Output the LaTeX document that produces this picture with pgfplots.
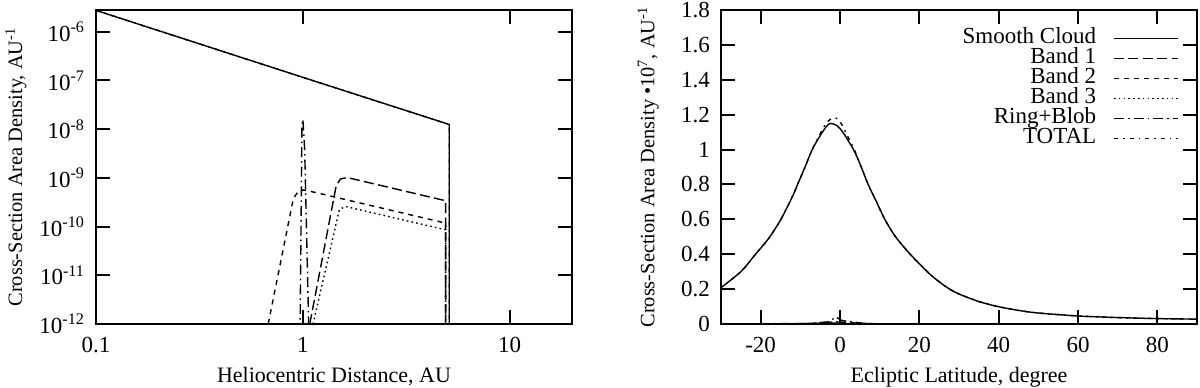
\documentclass[border=0pt]{standalone}
\usepackage{fontspec}
\setmainfont{Liberation Serif}
\usepackage{pgfplots}
\pgfplotsset{compat=1.18}

\newcommand\gpfont{\fontsize{11.5}{13}\selectfont}
\newcommand\xlfont{\fontsize{11}{13}\selectfont}
\newcommand\ylfont{\fontsize{10.2}{12}\selectfont}

\pgfplotsset{
  gp/.style={
    scale only axis,
    width=238pt, height=157pt,
    axis line style={line width=1.3pt},
    tick style={line width=1pt, black},
    major tick length=7pt,
    minor tick length=3.5pt,
    tick align=inside,
    tick label style={font=\gpfont},
    xlabel style={font=\xlfont},
    ylabel style={font=\ylfont},
    /pgf/number format/assume math mode=true,
    yticklabel style={xshift=-2pt},
    xticklabel style={yshift=-3pt},
    every axis x label/.append style={at={(axis description cs:0.5,0)}, anchor=center, yshift=-26.5pt},
  },
  sc/.style={black, line width=0.7pt},
  b1/.style={black, line width=0.7pt, dash pattern=on 5pt off 2.2pt},
  b2/.style={black, line width=0.7pt, dash pattern=on 2.5pt off 2.5pt},
  b3/.style={black, line width=0.7pt, dash pattern=on 0.8pt off 1.6pt},
  rb/.style={black, line width=0.7pt, dash pattern=on 5pt off 2pt on 0.8pt off 2pt},
  tot/.style={black, line width=0.7pt, dash pattern=on 2pt off 2.5pt on 0.8pt off 2.5pt},
}

\begin{document}
\begin{tikzpicture}
\path[use as bounding box] (-48pt,-31.5pt) rectangle (552pt,162pt);

% left: radial profile
\begin{axis}[gp,
  at={(0,0)}, anchor=south west,
  xmode=log, ymode=log, log basis x=10, log basis y=10,
  xmin=0.1, xmax=20, ymin=1e-12, ymax=2.8e-6,
  xtick={0.1,1,10}, xticklabels={0.1,1,10},
  ytick={1e-12,1e-11,1e-10,1e-9,1e-8,1e-7,1e-6},
  yticklabels={10\textsuperscript{-12},10\textsuperscript{-11},10\textsuperscript{-10},10\textsuperscript{-9},10\textsuperscript{-8},10\textsuperscript{-7},10\textsuperscript{-6}},
  yminorticks=false,
  xlabel={Heliocentric Distance, AU},
  ylabel={Cross-Section Area Density, AU\textsuperscript{-1}},
  every axis y label/.append style={at={(axis description cs:-0.168,0.5)}, anchor=center},
]
\addplot[sc] coordinates {(0.1,2.75e-6) (1,1.16e-7) (5.1,1.25e-8) (5.1,1e-14)};
\addplot[b1] coordinates {(1.08,1e-12) (1.45,7e-10) (1.52,9.5e-10) (1.6,1.0e-9) (1.7,9.8e-10) (4.9,3.4e-10) (4.9,1e-14)};
\addplot[b2] coordinates {(0.68,1e-12) (0.9,3.8e-10) (0.96,5.6e-10) (1.03,5.6e-10) (4.9,1.18e-10) (4.9,1e-14)};
\addplot[b3] coordinates {(1.12,1e-12) (1.5,2.2e-10) (1.6,2.6e-10) (4.9,8.6e-11) (4.9,1e-14)};
\addplot[rb] coordinates {(0.965,1e-13) (0.99,1.2e-8) (1.0,1.6e-8) (1.02,4e-9) (1.08,1e-13)};
\addplot[tot] coordinates {(0.1,2.75e-6) (1,1.16e-7) (5.1,1.25e-8) (5.1,1e-14)};
\end{axis}

% right: latitude profile
\begin{axis}[gp,
  at={(312.5pt,0)}, anchor=south west,
  xmin=-30, xmax=90, ymin=0, ymax=1.8,
  xtick={-20,0,20,40,60,80},
  ytick={0,0.2,0.4,0.6,0.8,1,1.2,1.4,1.6,1.8},
  xlabel={Ecliptic Latitude, degree},
  ylabel={Cross-Section Area Density •10\textsuperscript{7}, AU\textsuperscript{-1}},
  every axis y label/.append style={at={(axis description cs:-0.153,0.5)}, anchor=center},
  legend plot pos=right,
  legend cell align=right,
  legend image code/.code={\draw[#1] (0pt,0pt) -- (32pt,0pt);},
  legend style={draw=none, fill=none, at={(1,1)}, anchor=north east,
    xshift=-6pt, yshift=-7pt, font=\gpfont, row sep=0pt,
    nodes={inner ysep=0pt, text height=7.5pt, text depth=2.5pt},
    /tikz/every odd column/.append style={column sep=6.5pt}},
]
\addplot[sc, smooth] coordinates {
  (-30.5,0.2) (-25,0.30) (-21.3,0.4) (-18,0.49) (-14.9,0.6) (-12,0.73)
  (-10.7,0.8) (-9,0.89) (-7,1.0) (-5,1.08) (-3.5,1.13) (-2.5,1.15)
  (-1,1.14) (0,1.12) (1,1.09) (3.4,1.0) (5,0.92) (7.1,0.8) (9,0.71)
  (11.3,0.6) (14,0.5) (17.7,0.4) (22,0.30) (24,0.26) (26,0.225) (28,0.195)
  (30,0.172) (33,0.145) (36,0.122) (40,0.099) (45,0.078) (50,0.063)
  (60,0.046) (70,0.037) (80,0.031) (90,0.028)};
\addlegendentry{Smooth Cloud}
\addplot[b1, smooth] coordinates {(-30,0) (-10,0.002) (-4,0.008) (-1,0.012) (2,0.008) (8,0.002) (20,0) (90,0)};
\addlegendentry{Band 1}
\addplot[b2, smooth] coordinates {(-30,0) (-8,0.002) (-2,0.006) (2,0.004) (10,0.001) (90,0)};
\addlegendentry{Band 2}
\addplot[b3, smooth] coordinates {(-30,0) (-8,0.001) (-2,0.004) (2,0.003) (10,0.001) (90,0)};
\addlegendentry{Band 3}
\addplot[rb] coordinates {(-30,0) (-8,0.003) (-3,0.012) (-1,0.04) (0.5,0.02) (3,0.012) (6,0.004) (12,0) (90,0)};
\addlegendentry{Ring+Blob}
\addplot[tot, smooth] coordinates {
  (-30.5,0.2) (-25,0.30) (-21.3,0.4) (-18,0.49) (-14.9,0.6) (-12,0.73)
  (-10.7,0.8) (-9,0.89) (-7,1.0) (-5,1.09) (-3.5,1.15) (-2,1.18)
  (-1,1.18) (0,1.16) (1,1.12) (2.5,1.05) (3.4,1.01) (5,0.92) (7.1,0.8) (9,0.71)
  (11.3,0.6) (14,0.5) (17.7,0.4) (22,0.30) (24,0.26) (26,0.225) (28,0.195)
  (30,0.172) (33,0.145) (36,0.122) (40,0.099) (45,0.078) (50,0.063)
  (60,0.046) (70,0.037) (80,0.031) (90,0.028)};
\addlegendentry{TOTAL}
\end{axis}
\end{tikzpicture}
\end{document}
